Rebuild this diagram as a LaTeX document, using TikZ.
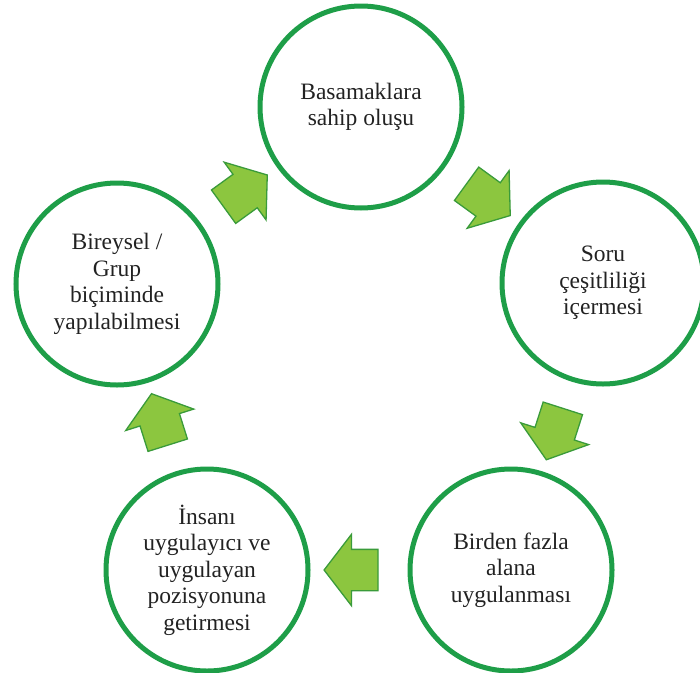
\documentclass[tikz,border=0pt]{standalone}
\usepackage{fontspec}
\setmainfont{Liberation Serif}
\usepackage{tikz}
\usetikzlibrary{shapes.arrows}
\usepackage{xcolor}

\definecolor{ringgreen}{HTML}{1E9E48}
\definecolor{arrowfill}{HTML}{8CC63F}
\definecolor{arrowline}{HTML}{3A9B3A}
\definecolor{textgray}{HTML}{222222}

\begin{document}
\begin{tikzpicture}[x=1pt, y=-1pt,
  ring/.style={circle, draw=ringgreen, line width=5pt, minimum size=202pt,
    inner sep=0pt, align=center, text=textgray,
    font=\fontsize{23.5}{26.5}\selectfont},
  blockarrow/.style={single arrow, draw=arrowline, fill=arrowfill,
    line width=1.3pt, minimum height=54pt, inner xsep=0pt, inner ysep=20pt,
    single arrow head extend=15pt, single arrow tip angle=105,
    sloped, allow upside down}]
  % page frame
  \useasboundingbox (0,0) rectangle (700,672);
  \clip (0,0) rectangle (700,672);

  % the five steps
  \node[ring] (basamak) at (361,107) {Basamaklara\\sahip oluşu};
  \node[ring] (soru) at (603,283) {Soru\\çeşitliliği\\içermesi};
  \node[ring] (alan) at (511,570) {Birden fazla\\alana\\uygulanması};
  \node[ring] (insan) at (207,570) {İnsanı\\uygulayıcı ve\\uygulayan\\pozisyonuna\\getirmesi};
  \node[ring] (grup) at (117,284) {Bireysel /\\Grup\\biçiminde\\yapılabilmesi};

  % arrows between the steps
  \path (basamak) -- node[blockarrow] (ok1) {} (soru);
  \path (soru) -- node[blockarrow] (ok2) {} (alan);
  \path (alan) -- node[blockarrow] (ok3) {} (insan);
  \path (insan) -- node[blockarrow] (ok4) {} (grup);
  \path (grup) -- node[blockarrow] (ok5) {} (basamak);
\end{tikzpicture}
\end{document}
